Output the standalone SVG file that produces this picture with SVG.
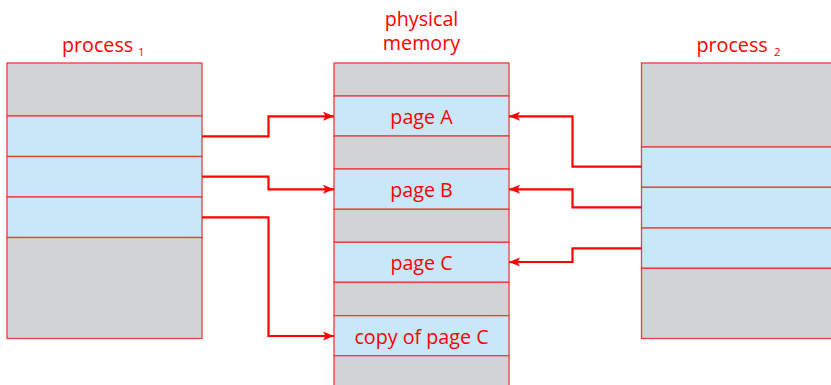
<svg xmlns="http://www.w3.org/2000/svg" width="831" height="385" viewBox="0 0 831 385">
<style>
.g{fill:#d1d3d4;stroke:#f03c3c;stroke-width:1.3}
.b{fill:#c8e8f9;stroke:#f03c3c;stroke-width:1.3}
.t{font-family:"Open Sans","Liberation Sans",sans-serif;font-size:19.7px;fill:#ff0000}
.s{font-family:"Open Sans","Liberation Sans",sans-serif;font-size:11.5px;fill:#ff0000}
.c{fill:none;stroke:#ff0000;stroke-width:2.2;marker-end:url(#ah)}
</style>
<defs>
<marker id="ah" markerUnits="userSpaceOnUse" markerWidth="11" markerHeight="10" refX="11" refY="5" orient="auto">
<path d="M0,0.5 L11,5 L0,9.5 L2.5,5 Z" fill="#ff0000"/>
</marker>
</defs>
<rect width="831" height="385" fill="#ffffff"/>
<g id="process1">
<rect class="g" x="7" y="63" width="195" height="53"/>
<rect class="b" x="7" y="116" width="195" height="40.5"/>
<rect class="b" x="7" y="156.5" width="195" height="40.5"/>
<rect class="b" x="7" y="197" width="195" height="40.5"/>
<rect class="g" x="7" y="237.5" width="195" height="101"/>
<text class="t" x="62" y="51.5">process</text>
<text class="s" x="138" y="56">1</text>
</g>
<g id="memory">
<rect class="g" x="334" y="63" width="175" height="33"/>
<rect class="b" x="334" y="96" width="175" height="40"/>
<rect class="g" x="334" y="136" width="175" height="33"/>
<rect class="b" x="334" y="169" width="175" height="40.3"/>
<rect class="g" x="334" y="209.3" width="175" height="33"/>
<rect class="b" x="334" y="242.3" width="175" height="40"/>
<rect class="g" x="334" y="282.3" width="175" height="33.4"/>
<rect class="b" x="334" y="315.7" width="175" height="40"/>
<rect class="g" x="334" y="355.7" width="175" height="40"/>
<text class="t" x="421.5" y="25.5" text-anchor="middle">physical</text>
<text class="t" x="421.5" y="50" text-anchor="middle">memory</text>
<text class="t" x="421.5" y="123.5" text-anchor="middle">page A</text>
<text class="t" x="421.5" y="196.5" text-anchor="middle">page B</text>
<text class="t" x="421.5" y="270" text-anchor="middle">page C</text>
<text class="t" x="421.5" y="343.5" text-anchor="middle">copy of page C</text>
</g>
<g id="process2">
<rect class="g" x="641.5" y="63" width="200" height="84"/>
<rect class="b" x="641.5" y="147" width="200" height="40.3"/>
<rect class="b" x="641.5" y="187.3" width="200" height="40.7"/>
<rect class="b" x="641.5" y="228" width="200" height="40.3"/>
<rect class="g" x="641.5" y="268.3" width="200" height="70.2"/>
<text class="t" x="696.5" y="51.5">process</text>
<text class="s" x="774" y="56">2</text>
</g>
<g id="connectors">
<path class="c" d="M202,136.3 H268.5 V116.3 H334"/>
<path class="c" d="M202,176.7 H268.5 V189.3 H334"/>
<path class="c" d="M202,217.3 H268.5 V336 H334"/>
<path class="c" d="M641.5,166.7 H572.5 V116.3 H509"/>
<path class="c" d="M641.5,207.3 H572.5 V189.3 H509"/>
<path class="c" d="M641.5,248.3 H572.5 V262 H509"/>
</g>
</svg>
